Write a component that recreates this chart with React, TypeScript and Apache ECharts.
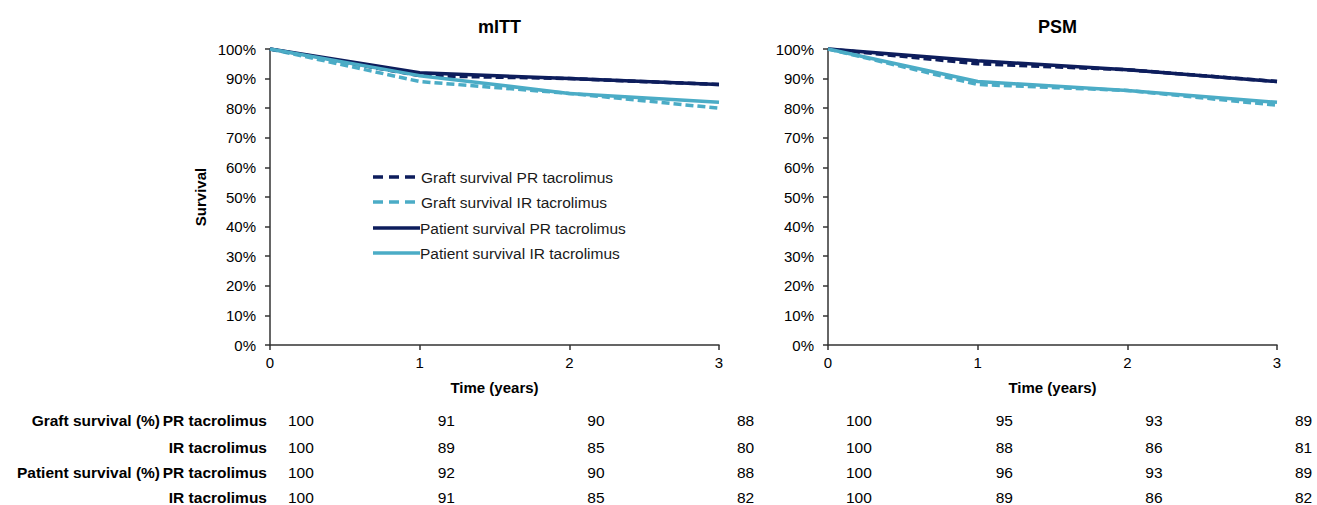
import React, { useEffect, useRef } from "react";
import * as echarts from "echarts";

const years = [0, 1, 2, 3];
const panelTitles = ["mITT", "PSM"];
const seriesNames = [
  "Graft survival PR tacrolimus",
  "Graft survival IR tacrolimus",
  "Patient survival PR tacrolimus",
  "Patient survival IR tacrolimus",
];
// mITT
const mittGraftPR = [100, 91, 90, 88];
const mittGraftIR = [100, 89, 85, 80];
const mittPatientPR = [100, 92, 90, 88];
const mittPatientIR = [100, 91, 85, 82];
// PSM
const psmGraftPR = [100, 95, 93, 89];
const psmGraftIR = [100, 88, 86, 81];
const psmPatientPR = [100, 96, 93, 89];
const psmPatientIR = [100, 89, 86, 82];

const rowGroupLabels = ["Graft survival (%)", "", "Patient survival (%)", ""];
const rowLabels = ["PR tacrolimus", "IR tacrolimus", "PR tacrolimus", "IR tacrolimus"];

const DARK = "#0D1D5C";
const LIGHT = "#4BACC6";
const FONT = "'Liberation Sans', Arial, sans-serif";

export default function App() {
  const ref = useRef<HTMLDivElement>(null);
  useEffect(() => {
    document.body.style.margin = "0";
    const chart = echarts.init(ref.current!, null, { renderer: "svg" });
    const panels = [
      [mittGraftPR, mittGraftIR, mittPatientPR, mittPatientIR],
      [psmGraftPR, psmGraftIR, psmPatientPR, psmPatientIR],
    ];
    const colors = [DARK, LIGHT, DARK, LIGHT];
    const dashed = [true, true, false, false];
    const gridLefts = [270, 828];
    const gridW = 449;
    const series: any[] = [];
    panels.forEach((p, pi) => {
      p.forEach((vals, si) => {
        series.push({
          type: "line",
          name: seriesNames[si],
          xAxisIndex: pi,
          yAxisIndex: pi,
          data: years.map((y, i) => [y, vals[i]]),
          symbol: "none",
          showSymbol: false,
          lineStyle: {
            color: colors[si],
            width: 3.5,
            type: dashed[si] ? [8, 4] : "solid",
          },
          itemStyle: { color: colors[si] },
          z: dashed[si] ? 2 : 3,
        });
      });
    });

    const axisLine = { show: true, lineStyle: { color: "#333", width: 1.5 } };
    const axisTick = { show: true, length: 5, inside: false, lineStyle: { color: "#333", width: 1.5 } };
    const labelStyle = { color: "#000", fontSize: 15, fontFamily: FONT };

    const graphic: any[] = [];
    // legend (drawn)
    const legY = [177, 202, 228, 253];
    seriesNames.forEach((n, si) => {
      graphic.push({
        type: "line",
        shape: { x1: 373, y1: legY[si], x2: dashed[si] ? 415 : 420, y2: legY[si] },
        style: {
          stroke: colors[si],
          lineWidth: 3.5,
          lineDash: dashed[si] ? [10, 6] : null,
        },
      });
      graphic.push({
        type: "text",
        style: {
          text: n,
          x: dashed[si] ? 421 : 420,
          y: legY[si],
          textAlign: "left",
          verticalAlign: "middle",
          font: `15.5px ${FONT}`,
          fill: "#1a1a1a",
        },
      });
    });

    const rowY = [420, 447, 472, 497];
    rowLabels.forEach((lab, ri) => {
      if (rowGroupLabels[ri]) {
        graphic.push({
          type: "text",
          style: {
            text: rowGroupLabels[ri],
            x: 160,
            y: rowY[ri],
            textAlign: "right",
            verticalAlign: "middle",
            font: `bold 15.5px ${FONT}`,
            fill: "#000",
          },
        });
      }
      graphic.push({
        type: "text",
        style: {
          text: lab,
          x: 267,
          y: rowY[ri],
          textAlign: "right",
          verticalAlign: "middle",
          font: `bold 15.5px ${FONT}`,
          fill: "#000",
        },
      });
      panels.forEach((p, pi) => {
        years.forEach((yr, ci) => {
          graphic.push({
            type: "text",
            style: {
              text: String(p[ri][ci]),
              x: gridLefts[pi] + (gridW / 3) * yr + 18,
              y: rowY[ri],
              textAlign: "left",
              verticalAlign: "middle",
              font: `15.5px ${FONT}`,
              fill: "#000",
            },
          });
        });
      });
    });

    chart.setOption({
      animation: false,
      textStyle: { fontFamily: FONT },
      title: panelTitles.map((t, i) => ({
        text: t,
        left: gridLefts[i] + gridW / 2,
        top: 13,
        textAlign: "center",
        textStyle: { fontSize: 18, fontWeight: "bold", color: "#000", fontFamily: FONT },
      })),
      grid: gridLefts.map((l) => ({ left: l, top: 49, width: gridW, height: 296 })),
      xAxis: gridLefts.map((_, i) => ({
        type: "value",
        gridIndex: i,
        min: 0,
        max: 3,
        interval: 1,
        name: "Time (years)",
        nameLocation: "middle",
        nameGap: 35,
        nameTextStyle: { fontSize: 15, fontWeight: "bold", color: "#000", fontFamily: FONT },
        axisLine,
        axisTick,
        splitLine: { show: false },
        axisLabel: { ...labelStyle, margin: 10 },
      })),
      yAxis: gridLefts.map((_, i) => ({
        type: "value",
        gridIndex: i,
        min: 0,
        max: 100,
        interval: 10,
        name: i === 0 ? "Survival" : "",
        nameLocation: "middle",
        nameGap: 62,
        nameTextStyle: { fontSize: 15, fontWeight: "bold", color: "#000", fontFamily: FONT },
        axisLine,
        axisTick,
        splitLine: { show: false },
        axisLabel: { ...labelStyle, margin: 14, formatter: "{value}%" },
      })),
      series,
      graphic,
    });
    return () => chart.dispose();
  }, []);
  return <div ref={ref} style={{ width: 1317, height: 505 }} />;
}
